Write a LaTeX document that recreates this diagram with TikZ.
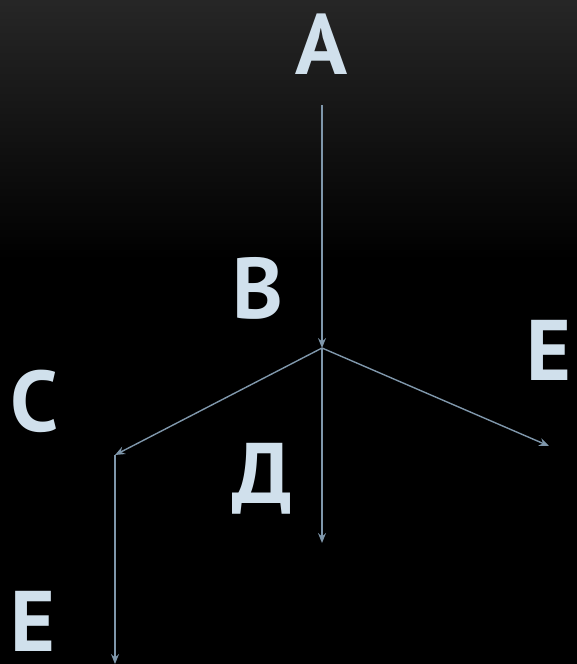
\documentclass[tikz,border=0pt]{standalone}
\usepackage{fontspec}
\setmainfont{PT Sans}
\usepackage{xcolor}
\usetikzlibrary{arrows.meta}
\definecolor{lettercol}{HTML}{D0E0EC}
\definecolor{linecol}{HTML}{7F97AB}

\begin{document}
\begin{tikzpicture}[x=1pt, y=-1pt,
    every node/.style = {anchor=base, inner sep=0pt,
      text=lettercol, font=\fontsize{86}{90}\selectfont\bfseries},
    arr/.style = {draw=linecol, line width=1.4pt,
      -{Stealth[length=10pt, width=8pt, inset=3.5pt]}}]
  % background
  \fill[black] (0,0) rectangle (577,664);
  \shade[top color=black!85!white, bottom color=black] (0,0) rectangle (577,260);
  \useasboundingbox (0,0) rectangle (577,664);
  % letters
  \node (a) at (322,74) {А};
  \node (b) at (258,318) {В};
  \node (c) at (35,431) {С};
  \node (d) at (262,503) {Д};
  \node (e1) at (549,380) {Е};
  \node (e2) at (33,651) {Е};
  % junctions
  \coordinate (top) at (322,105);
  \coordinate (j) at (322,348);
  \coordinate (k) at (115,455);
  \coordinate (dend) at (322,543);
  \coordinate (eend) at (549,446);
  \coordinate (bend) at (115,664);
  % arrows
  \draw[arr] (top) -- (j);
  \draw[arr] (j) -- (k);
  \draw[arr] (j) -- (dend);
  \draw[arr] (j) -- (eend);
  \draw[arr] (k) -- (bend);
\end{tikzpicture}
\end{document}
